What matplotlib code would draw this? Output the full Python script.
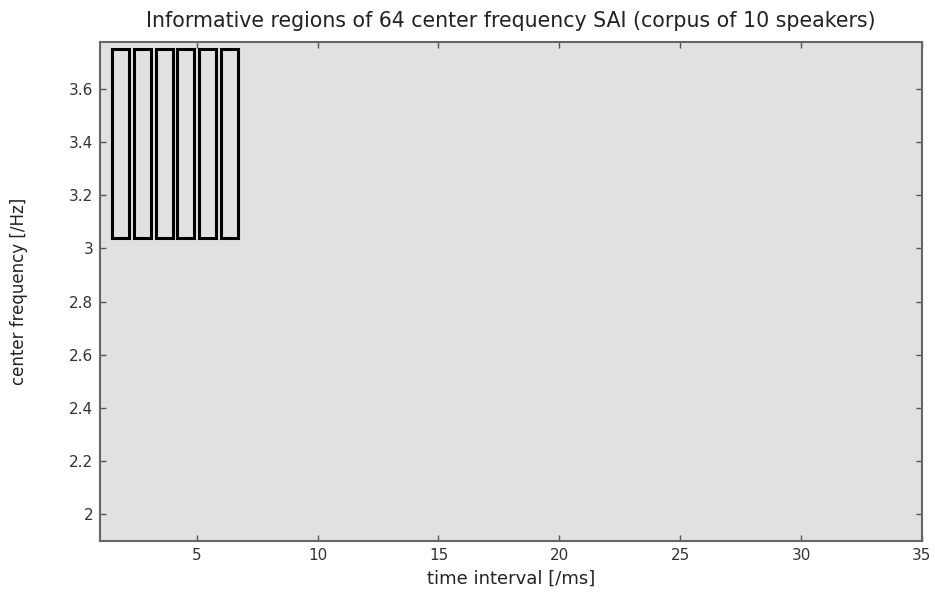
import matplotlib
matplotlib.use("Agg")
import matplotlib.pyplot as plt
from matplotlib.patches import Rectangle

plt.rcParams['font.family'] = ['DejaVu Sans']

# Informative regions (time interval start [ms], width [ms], freq low, freq high)
region_starts = [1.5, 2.4, 3.3, 4.2, 5.1, 6.0]
region_width = 0.7
region_freq_low = 3.04
region_freq_high = 3.75

x_ticks = [5, 10, 15, 20, 25, 30, 35]
y_ticks = [2.0, 2.2, 2.4, 2.6, 2.8, 3.0, 3.2, 3.4, 3.6]
y_tick_labels = ["2", "2.2", "2.4", "2.6", "2.8", "3", "3.2", "3.4", "3.6"]

fig = plt.figure(figsize=(9.35, 5.96), dpi=100)
ax = fig.add_axes([0.107, 0.0923, 0.879, 0.8372])
ax.set_facecolor('#e1e1e1')

for s in region_starts:
    ax.add_patch(Rectangle((s, region_freq_low), region_width,
                           region_freq_high - region_freq_low,
                           facecolor='#e1e1e1', edgecolor='black', linewidth=2.2))

ax.set_xlim(1, 35)
ax.set_ylim(1.9, 3.776)
ax.set_xticks(x_ticks)
ax.set_yticks(y_ticks)
ax.set_yticklabels(y_tick_labels)
ax.tick_params(direction='in', length=4, width=1, colors='#555555',
               labelcolor='#333333', labelsize=11, top=True, right=True)
ax.tick_params(axis='y', pad=5)
ax.tick_params(axis='x', pad=5)
for sp in ax.spines.values():
    sp.set_color('#666666')
    sp.set_linewidth(1.5)

ax.set_title("Informative regions of 64 center frequency SAI (corpus of 10 speakers)",
             fontsize=14.8, color='#222222', pad=10.5)
ax.set_xlabel("time interval [/ms]", fontsize=13, color='#222222', labelpad=5)
ax.set_ylabel("center frequency [/Hz]", fontsize=12, color='#222222')
ax.yaxis.set_label_coords(-0.088, 0.5)

fig.savefig("out.png", dpi=100, facecolor='white')
